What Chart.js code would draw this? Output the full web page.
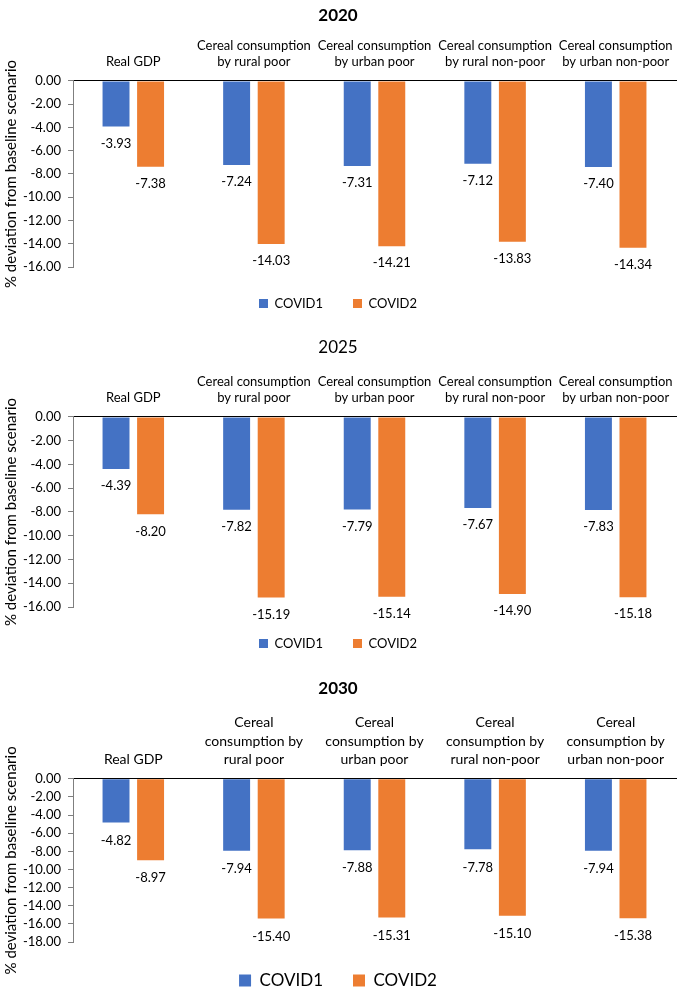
<!DOCTYPE html>
<html>
<head>
<meta charset="utf-8">
<script src="https://cdn.jsdelivr.net/npm/chart.js@4"></script>
<style>
  body { margin: 0; background: #fff; overflow: hidden; }
  canvas { display: block; }
</style>
</head>
<body>
<canvas id="c2020" width="690" height="322"></canvas>
<canvas id="c2025" width="690" height="341"></canvas>
<canvas id="c2030" width="690" height="336"></canvas>
<script>
// categories (two-line wrap for 2020/2025, three-line for 2030)
const categoriesShort = [
  'Real GDP',
  ['Cereal consumption', 'by rural poor'],
  ['Cereal consumption', 'by urban poor'],
  ['Cereal consumption', 'by rural non-poor'],
  ['Cereal consumption', 'by urban non-poor']
];
const categoriesTall = [
  'Real GDP',
  ['Cereal', 'consumption by', 'rural poor'],
  ['Cereal', 'consumption by', 'urban poor'],
  ['Cereal', 'consumption by', 'rural non-poor'],
  ['Cereal', 'consumption by', 'urban non-poor']
];
const seriesNames = ['COVID1', 'COVID2'];

const covid1_2020 = [-3.93, -7.24, -7.31, -7.12, -7.40];
const covid2_2020 = [-7.38, -14.03, -14.21, -13.83, -14.34];
const covid1_2025 = [-4.39, -7.82, -7.79, -7.67, -7.83];
const covid2_2025 = [-8.20, -15.19, -15.14, -14.90, -15.18];
const covid1_2030 = [-4.82, -7.94, -7.88, -7.78, -7.94];
const covid2_2030 = [-8.97, -15.40, -15.31, -15.10, -15.38];

const yMin2020 = -16, yMin2025 = -16, yMin2030 = -18;

const FONT = 'Lato, "Liberation Sans", sans-serif';
const BLUE = '#4472C4';
const ORANGE = '#ED7D31';

// value labels just under the end of every bar
const valueLabels = {
  id: 'valueLabels',
  afterDatasetsDraw(chart, args, opts) {
    const ctx = chart.ctx;
    ctx.save();
    ctx.font = '13px ' + FONT;
    ctx.fillStyle = '#000';
    ctx.textAlign = 'center';
    ctx.textBaseline = 'middle';
    chart.data.datasets.forEach((ds, i) => {
      chart.getDatasetMeta(i).data.forEach((bar, j) => {
        ctx.fillText(ds.data[j].toFixed(2), bar.x, bar.y + opts.offset);
      });
    });
    ctx.restore();
  }
};

function makeChart(id, year, labels, c1, c2, o) {
  new Chart(document.getElementById(id), {
    type: 'bar',
    data: {
      labels: labels,
      datasets: [
        { label: seriesNames[0], data: c1, backgroundColor: BLUE },
        { label: seriesNames[1], data: c2, backgroundColor: ORANGE }
      ]
    },
    options: {
      responsive: false,
      animation: false,
      categoryPercentage: 0.573,
      barPercentage: 0.78,
      layout: { padding: { left: 0, right: 14, top: 0, bottom: o.padBottom } },
      scales: {
        x: {
          position: 'top',
          grid: { display: false, drawTicks: false },
          border: { display: true, color: '#000', width: 1 },
          ticks: {
            color: '#000',
            padding: o.tickPad,
            maxRotation: 0,
            autoSkip: false,
            font: { family: FONT, size: o.catSize, lineHeight: o.catLine }
          }
        },
        y: {
          min: o.yMin,
          max: 0,
          afterFit: scale => { scale.width = 73; },
          grid: { drawOnChartArea: false, drawTicks: true, tickLength: 5, color: '#7f7f7f' },
          border: { display: true, color: '#7f7f7f' },
          ticks: {
            stepSize: 2,
            autoSkip: false,
            padding: 7,
            color: '#000',
            font: { family: FONT, size: 13 },
            callback: v => Number(v).toFixed(2)
          },
          title: {
            display: true,
            text: '% deviation from baseline scenario',
            color: '#000',
            padding: { top: 2, bottom: 0 },
            font: { family: FONT, size: 15 }
          }
        }
      },
      plugins: {
        title: {
          display: true,
          text: year,
          color: '#000',
          padding: { top: o.titleTop, bottom: o.titleBottom },
          font: { family: FONT, size: 17, weight: o.titleWeight }
        },
        legend: {
          position: 'bottom',
          labels: {
            color: '#000',
            boxWidth: o.box,
            boxHeight: o.box,
            padding: 30,
            font: { family: FONT, size: o.legendSize }
          }
        },
        tooltip: { enabled: false },
        valueLabels: { offset: o.labelOffset }
      }
    },
    plugins: [valueLabels]
  });
}

makeChart('c2020', '2020', categoriesShort, covid1_2020, covid2_2020, {
  yMin: yMin2020, catSize: 13, catLine: 1.25, tickPad: 11,
  titleTop: 5, titleBottom: 1, titleWeight: 'bold',
  padBottom: 2, box: 9, legendSize: 13, labelOffset: 17
});
makeChart('c2025', '2025', categoriesShort, covid1_2025, covid2_2025, {
  yMin: yMin2025, catSize: 13, catLine: 1.25, tickPad: 11,
  titleTop: 15, titleBottom: 5, titleWeight: 'normal',
  padBottom: 3, box: 9, legendSize: 13, labelOffset: 17
});
makeChart('c2030', '2030', categoriesTall, covid1_2030, covid2_2030, {
  yMin: yMin2030, catSize: 14, catLine: 1.32, tickPad: 10,
  titleTop: 15, titleBottom: 5, titleWeight: 'bold',
  padBottom: 0, box: 12, legendSize: 17, labelOffset: 18
});
</script>
</body>
</html>
